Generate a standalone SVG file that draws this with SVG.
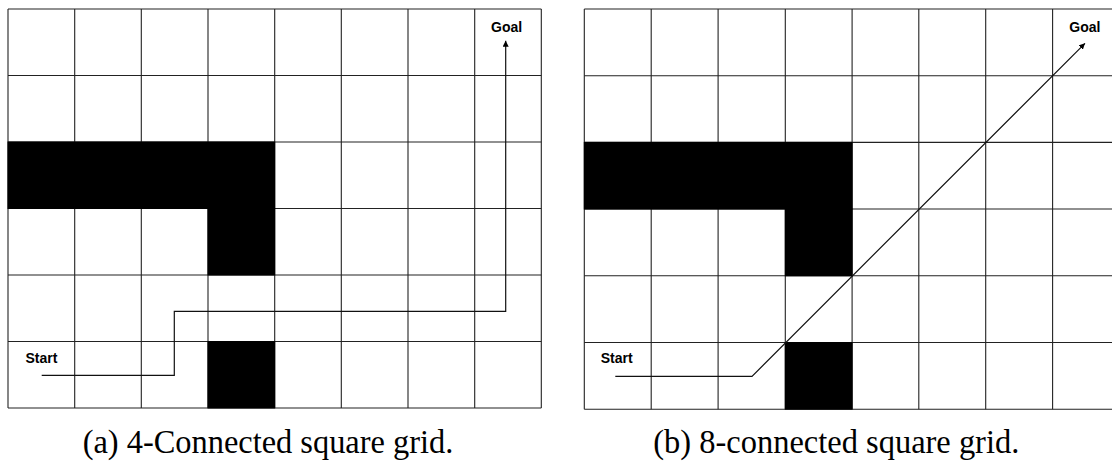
<svg xmlns="http://www.w3.org/2000/svg" width="1112" height="462" viewBox="0 0 1112 462">
<style>
.grid line{stroke:#222;stroke-width:1.1}
.obs{fill:#000}
.lbl{font-family:"Liberation Sans",Arial,sans-serif;font-weight:bold;font-size:14px;fill:#000}
.cap{font-family:"Liberation Serif","Times New Roman",serif;font-size:34px;fill:#000}
.path{fill:none;stroke:#111;stroke-width:1.2}
</style>
<defs>
<marker id="arr" viewBox="0 0 10 10" refX="10" refY="5" markerWidth="6" markerHeight="6" markerUnits="userSpaceOnUse" orient="auto">
<path d="M0,0 L10,5 L0,10 z" fill="#000"/>
</marker>
</defs>
<rect width="1112" height="462" fill="#fff"/>
<g id="gridA">
<g class="grid">
<line x1="8" y1="9" x2="8" y2="408"/>
<line x1="74.7" y1="9" x2="74.7" y2="408"/>
<line x1="141.3" y1="9" x2="141.3" y2="408"/>
<line x1="208" y1="9" x2="208" y2="408"/>
<line x1="274.7" y1="9" x2="274.7" y2="408"/>
<line x1="341.3" y1="9" x2="341.3" y2="408"/>
<line x1="408" y1="9" x2="408" y2="408"/>
<line x1="474.7" y1="9" x2="474.7" y2="408"/>
<line x1="541.3" y1="9" x2="541.3" y2="408"/>
<line x1="8" y1="9" x2="541.3" y2="9"/>
<line x1="8" y1="75.5" x2="541.3" y2="75.5"/>
<line x1="8" y1="142" x2="541.3" y2="142"/>
<line x1="8" y1="208.5" x2="541.3" y2="208.5"/>
<line x1="8" y1="275" x2="541.3" y2="275"/>
<line x1="8" y1="341.5" x2="541.3" y2="341.5"/>
<line x1="8" y1="408" x2="541.3" y2="408"/>
</g>
<rect class="obs" x="7.5" y="141.5" width="267.7" height="67.5"/>
<rect class="obs" x="207.5" y="208" width="67.7" height="67.5"/>
<rect class="obs" x="207.5" y="341" width="67.7" height="67.5"/>
</g>
<g id="gridB">
<g class="grid">
<line x1="584.3" y1="9" x2="584.3" y2="409.2"/>
<line x1="651.2" y1="9" x2="651.2" y2="409.2"/>
<line x1="718.1" y1="9" x2="718.1" y2="409.2"/>
<line x1="785.3" y1="9" x2="785.3" y2="409.2"/>
<line x1="852.1" y1="9" x2="852.1" y2="409.2"/>
<line x1="918.8" y1="9" x2="918.8" y2="409.2"/>
<line x1="985.7" y1="9" x2="985.7" y2="409.2"/>
<line x1="1052.6" y1="9" x2="1052.6" y2="409.2"/>
<line x1="584.3" y1="9" x2="1112" y2="9"/>
<line x1="584.3" y1="75.7" x2="1112" y2="75.7"/>
<line x1="584.3" y1="142.4" x2="1112" y2="142.4"/>
<line x1="584.3" y1="209" x2="1112" y2="209"/>
<line x1="584.3" y1="275.8" x2="1112" y2="275.8"/>
<line x1="584.3" y1="342.5" x2="1112" y2="342.5"/>
<line x1="584.3" y1="409.2" x2="1112" y2="409.2"/>
</g>
<rect class="obs" x="583.8" y="141.9" width="268.8" height="67.6"/>
<rect class="obs" x="784.8" y="208.5" width="67.8" height="67.8"/>
<rect class="obs" x="784.8" y="342" width="67.8" height="67.7"/>
</g>
<g id="labels">
<text class="lbl" x="25.5" y="363.3">Start</text>
<text class="lbl" x="491" y="32.3">Goal</text>
<text class="lbl" x="600.7" y="363.3">Start</text>
<text class="lbl" x="1069.3" y="31.7">Goal</text>
</g>
<g id="connectors">
<path class="path" d="M41.7,375.3 H174.3 V311.3 H505.7 V40.7" marker-end="url(#arr)"/>
<path class="path" d="M615.3,376.3 H752 L1085,43.3" marker-end="url(#arr)"/>
</g>
<g id="captions">
<text class="cap" x="82.7" y="452.7" textLength="370.6" lengthAdjust="spacingAndGlyphs">(a) 4-Connected square grid.</text>
<text class="cap" x="653.3" y="452.7" textLength="366" lengthAdjust="spacingAndGlyphs">(b) 8-connected square grid.</text>
</g>
</svg>
